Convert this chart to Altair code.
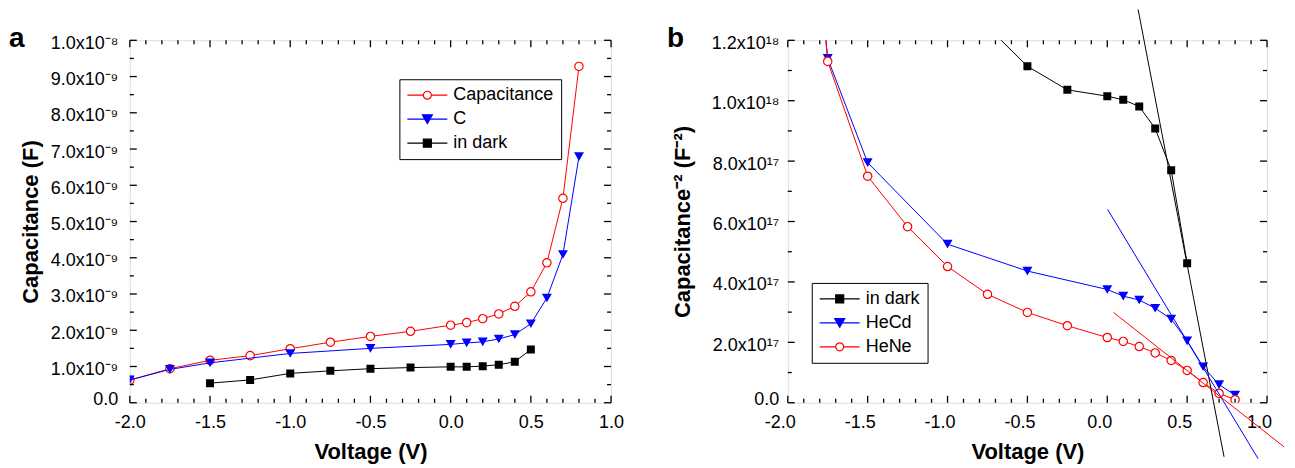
import altair as alt
import pandas as pd

FONT = "Liberation Sans"

# ---------------- Panel a: capacitance (units of 1e-9 F) vs voltage ----------------
v_capacitance = [-2.0, -1.75, -1.5, -1.25, -1.0, -0.75, -0.5, -0.25, 0.0, 0.1, 0.2, 0.3, 0.4, 0.5, 0.6, 0.7, 0.8]
cap_capacitance = [0.62, 0.94, 1.17, 1.30, 1.49, 1.67, 1.83, 1.97, 2.14, 2.21, 2.32, 2.45, 2.66, 3.06, 3.86, 5.64, 9.28]
v_c = [-2.0, -1.75, -1.5, -1.0, -0.5, 0.0, 0.1, 0.2, 0.3, 0.4, 0.5, 0.6, 0.7, 0.8]
cap_c = [0.63, 0.92, 1.10, 1.36, 1.50, 1.61, 1.65, 1.68, 1.76, 1.88, 2.18, 2.89, 4.09, 6.79]
v_dark_a = [-1.5, -1.25, -1.0, -0.75, -0.5, -0.25, 0.0, 0.1, 0.2, 0.3, 0.4, 0.5]
cap_dark = [0.54, 0.63, 0.81, 0.88, 0.94, 0.97, 0.99, 0.99, 1.01, 1.05, 1.13, 1.47]

# ---------------- Panel b: capacitance^-2 (units of 1e18 F^-2) vs voltage ----------------
v_hene = [-2.0, -1.75, -1.5, -1.25, -1.0, -0.75, -0.5, -0.25, 0.0, 0.1, 0.2, 0.3, 0.4, 0.5, 0.6, 0.7, 0.8]
invc2_hene = [2.60, 1.13, 0.750, 0.583, 0.451, 0.359, 0.299, 0.255, 0.216, 0.203, 0.186, 0.165, 0.140, 0.107, 0.067, 0.031, 0.010]
v_hecd = [-2.0, -1.75, -1.5, -1.0, -0.5, 0.0, 0.1, 0.2, 0.3, 0.4, 0.5, 0.6, 0.7, 0.8]
invc2_hecd = [2.52, 1.14, 0.795, 0.525, 0.436, 0.375, 0.353, 0.340, 0.313, 0.277, 0.205, 0.119, 0.060, 0.025]
v_dark_b = [-0.75, -0.5, -0.25, 0.0, 0.1, 0.2, 0.3, 0.4, 0.5]
invc2_dark = [1.245, 1.114, 1.036, 1.015, 1.003, 0.981, 0.908, 0.770, 0.462]

# linear fits drawn in panel b (start / end points)
fit_color = ["#000000", "#0000ff", "#ff0000"]
fit_v_start = [0.193, 0.002, 0.039]
fit_y_start = [1.302, 0.640, 0.299]
fit_v_end = [0.731, 0.944, 1.106]
fit_y_end = [-0.179, -0.185, -0.146]

# ---------------- ticks ----------------
x_major = [-2.0, -1.5, -1.0, -0.5, 0.0, 0.5, 1.0]
x_minor = [-1.9, -1.8, -1.7, -1.6, -1.4, -1.3, -1.2, -1.1, -0.9, -0.8, -0.7, -0.6,
           -0.4, -0.3, -0.2, -0.1, 0.1, 0.2, 0.3, 0.4, 0.6, 0.7, 0.8, 0.9]
ya_major = [0, 1, 2, 3, 4, 5, 6, 7, 8, 9, 10]
ya_minor = [0.5, 1.5, 2.5, 3.5, 4.5, 5.5, 6.5, 7.5, 8.5, 9.5]
yb_major = [0.0, 0.2, 0.4, 0.6, 0.8, 1.0, 1.2]
yb_minor = [0.1, 0.3, 0.5, 0.7, 0.9, 1.1]

names_a = ["Capacitance", "C", "in dark"]
colors_a = ["#ff0000", "#0000ff", "#000000"]
names_b = ["in dark", "HeCd", "HeNe"]
colors_b = ["#000000", "#0000ff", "#ff0000"]

LEG_CIRCLE = "M-1,0H-0.2M0.2,0H1M0.2,0A0.2,0.2,0,1,1,-0.2,0A0.2,0.2,0,1,1,0.2,0Z"
LEG_TRI = "M-1,0H1M-0.25,-0.2165L0.25,-0.2165L0,0.2165Z"
LEG_SQ = "M-1,0H1M-0.2,-0.2H0.2V0.2H-0.2Z"

W_A, W_B, H = 482, 480, 363
MAJ, MIN = 7, 4


def tick_layers(xs, ys, xaxis, yaxis, W, ymaj, ymin):
    layers = []
    for vals, L in [(x_major, MAJ), (x_minor, MIN)]:
        df = pd.DataFrame({"V": vals})
        base = alt.Chart(df).mark_rule(color="black", strokeWidth=1.3)
        layers.append(base.encode(x=alt.X("V:Q", scale=xs, axis=xaxis), y=alt.value(H), y2=alt.value(H - L)))
        layers.append(base.encode(x=alt.X("V:Q", scale=xs, axis=xaxis), y=alt.value(0), y2=alt.value(L)))
    for vals, L in [(ymaj, MAJ), (ymin, MIN)]:
        df = pd.DataFrame({"Y": vals})
        base = alt.Chart(df).mark_rule(color="black", strokeWidth=1.3)
        layers.append(base.encode(y=alt.Y("Y:Q", scale=ys, axis=yaxis), x=alt.value(0), x2=alt.value(L)))
        layers.append(base.encode(y=alt.Y("Y:Q", scale=ys, axis=yaxis), x=alt.value(W), x2=alt.value(W - L)))
    return layers


def series_layers(V, Y, color, shape, xs, ys, xaxis, yaxis):
    df = pd.DataFrame({"V": V, "Y": Y})
    enc = dict(x=alt.X("V:Q", scale=xs, axis=xaxis), y=alt.Y("Y:Q", scale=ys, axis=yaxis))
    line = alt.Chart(df).mark_line(color=color, strokeWidth=1, clip=True).encode(**enc)
    if shape == "circle":
        pm = alt.Chart(df).mark_point(shape="circle", filled=False, color=color, fill="white",
                                      fillOpacity=1, opacity=1, strokeWidth=1.2, size=70, clip=True)
    elif shape == "triangle-down":
        pm = alt.Chart(df).mark_point(shape="triangle-down", filled=True, color=color,
                                      opacity=1, size=100, clip=True)
    else:
        pm = alt.Chart(df).mark_point(shape="square", filled=True, color=color,
                                      opacity=1, size=64, clip=True)
    return [line, pm.encode(**enc)]


def legend_layer(names, colors, fills, paths, lx, ly):
    leg = alt.Legend(title=None, orient="none", legendX=lx, legendY=ly, strokeColor="black",
                     fillColor="white", padding=7, labelFontSize=18, labelFont=FONT,
                     labelColor="black", labelOffset=5, rowPadding=6, clipHeight=18,
                     symbolSize=1600, symbolOpacity=1, symbolStrokeWidth=1.2)
    df = pd.DataFrame({"series": names})
    return alt.Chart(df).mark_point(opacity=0, size=1600).encode(
        shape=alt.Shape("series:N", scale=alt.Scale(domain=names, range=paths), legend=leg),
        stroke=alt.Stroke("series:N", scale=alt.Scale(domain=names, range=colors), legend=leg),
        fill=alt.Fill("series:N", scale=alt.Scale(domain=names, range=fills), legend=leg),
    )


def letter_layer(letter):
    return alt.Chart(pd.DataFrame({"t": [letter]})).mark_text(
        align="left", baseline="alphabetic", fontSize=28, fontWeight="bold", font=FONT, color="black"
    ).encode(text="t:N", x=alt.value(-121), y=alt.value(7))


xs_a = alt.Scale(domain=[-2.0, 1.0], nice=False, zero=False)
ys_a = alt.Scale(domain=[0, 10], nice=False, zero=False)
xs_b = alt.Scale(domain=[-2.0, 1.0], nice=False, zero=False)
ys_b = alt.Scale(domain=[0, 1.2], nice=False, zero=False)

label_off_y = {"condition": {"test": "datum.value == 0", "value": -3}, "value": 3}
x_label_expr = "(datum.value < 0 ? '-' : '') + format(abs(datum.value), '.1f')"

xaxis_a = alt.Axis(values=x_major, labelExpr=x_label_expr, title="Voltage (V)", ticks=False, domain=False,
                   grid=False, labelFontSize=18, labelPadding=11, labelFlush=False,
                   titleFontSize=22, titleFontWeight="bold", titlePadding=10)
yaxis_a = alt.Axis(values=ya_major, title="Capacitance (F)", ticks=False, domain=False, grid=False,
                   labelExpr="datum.value == 0 ? '0.0' : (datum.value >= 9.99 ? '1.0x10⁻⁸' : format(datum.value, '.1f') + 'x10⁻⁹')",
                   labelFontSize=18, labelPadding=12, labelOffset=label_off_y, labelFlush=False,
                   titleFontSize=22, titleFontWeight="bold", titlePadding=8)
xaxis_b = alt.Axis(values=x_major, labelExpr=x_label_expr, title="Voltage (V)", ticks=False, domain=False,
                   grid=False, labelFontSize=18, labelPadding=11, labelFlush=False, labelOffset=-8,
                   titleFontSize=22, titleFontWeight="bold", titlePadding=10)
yaxis_b = alt.Axis(values=yb_major, title="Capacitance⁻² (F⁻²)", ticks=False, domain=False, grid=False,
                   labelExpr="datum.value == 0 ? '0.0' : (datum.value < 0.95 ? format(datum.value * 10, '.1f') + 'x10¹⁷' : format(datum.value, '.1f') + 'x10¹⁸')",
                   labelFontSize=18, labelPadding=9, labelOffset=label_off_y, labelFlush=False,
                   titleFontSize=22, titleFontWeight="bold", titlePadding=17)

# ---- panel a ----
layers_a = []
layers_a += series_layers(v_capacitance, cap_capacitance, "#ff0000", "circle", xs_a, ys_a, xaxis_a, yaxis_a)
layers_a += series_layers(v_c, cap_c, "#0000ff", "triangle-down", xs_a, ys_a, xaxis_a, yaxis_a)
layers_a += series_layers(v_dark_a, cap_dark, "#000000", "square", xs_a, ys_a, xaxis_a, yaxis_a)
layers_a += tick_layers(xs_a, ys_a, xaxis_a, yaxis_a, W_A, ya_major, ya_minor)
layers_a.append(legend_layer(names_a, colors_a, ["#ffffff", "#0000ff", "#000000"],
                             [LEG_CIRCLE, LEG_TRI, LEG_SQ], 270, 39))
layers_a.append(letter_layer("a"))
panel_a = alt.layer(*layers_a).properties(width=W_A, height=H)

# ---- panel b ----
layers_b = []
layers_b += series_layers(v_dark_b, invc2_dark, "#000000", "square", xs_b, ys_b, xaxis_b, yaxis_b)
layers_b += series_layers(v_hecd, invc2_hecd, "#0000ff", "triangle-down", xs_b, ys_b, xaxis_b, yaxis_b)
layers_b += series_layers(v_hene, invc2_hene, "#ff0000", "circle", xs_b, ys_b, xaxis_b, yaxis_b)
fit_df = pd.DataFrame({"V": fit_v_start, "Y": fit_y_start, "V2": fit_v_end, "Y2": fit_y_end, "c": fit_color})
layers_b.append(alt.Chart(fit_df).mark_rule(strokeWidth=1).encode(
    x=alt.X("V:Q", scale=xs_b, axis=xaxis_b), y=alt.Y("Y:Q", scale=ys_b, axis=yaxis_b),
    x2="V2:Q", y2="Y2:Q", color=alt.Color("c:N", scale=None, legend=None)))
layers_b += tick_layers(xs_b, ys_b, xaxis_b, yaxis_b, W_B, yb_major, yb_minor)
layers_b.append(legend_layer(names_b, colors_b, ["#000000", "#0000ff", "#ffffff"],
                             [LEG_SQ, LEG_TRI, LEG_CIRCLE], 24, 243))
layers_b.append(letter_layer("b"))
panel_b = alt.layer(*layers_b).properties(width=W_B, height=H)

chart = alt.hconcat(panel_a, panel_b, spacing=177, bounds="flush").resolve_scale(
    shape="independent", stroke="independent", fill="independent"
).resolve_legend(shape="independent", stroke="independent", fill="independent").properties(
    padding={"left": 0, "top": 0, "right": 2, "bottom": 0}
).configure_view(stroke="black", strokeWidth=1.6).configure_axis(
    labelFont=FONT, titleFont=FONT, labelColor="black", titleColor="black"
).configure(background="white")

chart.save("out.html", embed_options={"renderer": "svg", "actions": False})
